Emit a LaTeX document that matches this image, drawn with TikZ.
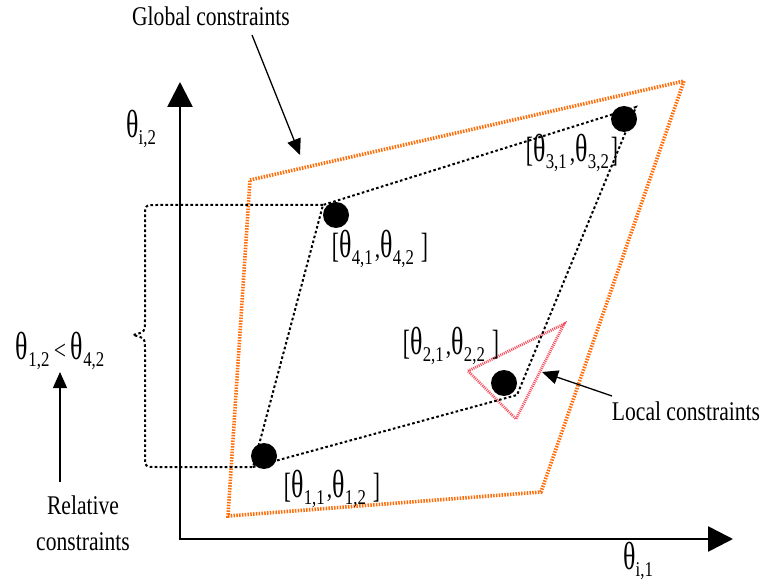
\documentclass[tikz,border=0pt]{standalone}
\usepackage{fontspec}
\usepackage{graphicx}
\setmainfont{Liberation Serif}[FakeStretch=0.8]
\usetikzlibrary{arrows.meta}
\newcommand\bigth{\scalebox{1.2}[1.45]{θ}}
\newcommand\tv[1]{\bigth\kern0.3pt\raisebox{-6.5pt}{\fontsize{21}{21}\selectfont #1}}
\newcommand\lbr{\scalebox{1}[1.3]{[}}
\newcommand\rbr{\scalebox{1}[1.3]{]}}
\definecolor{globorange}{RGB}{255,110,10}
\definecolor{locred}{RGB}{245,80,95}
\begin{document}
\begin{tikzpicture}[x=1pt,y=-1pt,
  txt/.style={inner sep=0pt, font=\fontsize{27}{36}\selectfont},
  axis/.style={line width=2.6pt, line join=miter,
    {Triangle[length=25pt,width=25pt]}-{Triangle[length=25pt,width=25pt]}},
  pointer/.style={line width=1.3pt, -{Triangle[length=16pt,width=14pt]}},
  globline/.style={draw=globorange, line width=3.6pt, dash pattern=on 1.5pt off 1.3pt},
  quadline/.style={draw=black, line width=2pt, dash pattern=on 2.6pt off 2.4pt},
  locline/.style={draw=locred, line width=2.8pt, dash pattern=on 1pt off 1pt},
  dot/.style={circle, fill=black, minimum size=26pt, inner sep=0pt}]
\useasboundingbox (0,0) rectangle (765,585);

% axes
\coordinate (yt) at (180,82);
\coordinate (o) at (180,539);
\coordinate (xt) at (733,539);
\draw[axis] (yt) -- (o) -- (xt);
\node[txt] (ylab) at (141,129) {\tv{i,2}};
\node[txt] (xlab) at (638,561) {\tv{i,1}};

% global constraints
\coordinate (g1) at (250,180);
\coordinate (g2) at (684,81);
\coordinate (g3) at (541,492);
\coordinate (g4) at (228,516);
\draw[globline] (g1) -- (g2) -- (g3) -- (g4) -- cycle;

% local constraints triangle
\coordinate (t1) at (468,371);
\coordinate (t2) at (564,324);
\coordinate (t3) at (516,419);
\draw[locline] (t1) -- (t2) -- (t3) -- cycle;

% parameter quadrilateral
\coordinate (q1) at (253,467);
\coordinate (q2) at (517,395);
\coordinate (q3) at (636,107);
\coordinate (q4) at (323,205);
\draw[quadline] (q1) -- (q2) -- (q3) -- (q4) -- cycle;

% relative constraint brace
\draw[quadline] (q4) -- (157,205) .. controls (145,205) .. (145,217) -- (145,320)
  .. controls (145,332) .. (133,335) .. controls (145,338) .. (145,350) -- (145,455)
  .. controls (145,467) .. (157,467) -- (q1);

% points
\node[dot] (d1) at (264,456) {};
\node[dot] (d2) at (504,383) {};
\node[dot] (d3) at (624,119) {};
\node[dot] (d4) at (336,215) {};

\node[txt] (l1) at (332,489) {\lbr\tv{1,1}\kern2pt,\tv{1,2}\kern7pt\rbr};
\node[txt] (l2) at (451,346) {\lbr\tv{2,1}\kern2pt,\tv{2,2}\kern7pt\rbr};
\node[txt] (l3) at (572,153) {\lbr\tv{3,1}\kern3pt,\tv{3,2}\kern2pt\rbr};
\node[txt] (l4) at (380,249) {\lbr\tv{4,1}\kern2pt,\tv{4,2}\kern7pt\rbr};

% annotations
\node[txt] (glob) at (211,16) {Global constraints};
\coordinate (gs) at (252,35);
\coordinate (ge) at (300,155);
\draw[pointer] (gs) -- (ge);

\node[txt] (loc) at (686,411) {Local constraints};
\coordinate (ls) at (612,396);
\coordinate (le) at (542,372);
\draw[pointer] (ls) -- (le);

\node[txt] (ineq) at (60,351) {\tv{1,2}\,<\,\tv{4,2}};
\node[txt, align=center] (rel) at (83,523) {Relative\\constraints};
\coordinate (rs) at (60,482);
\coordinate (re) at (60,372);
\draw[pointer] (rs) -- (re);
\end{tikzpicture}
\end{document}
